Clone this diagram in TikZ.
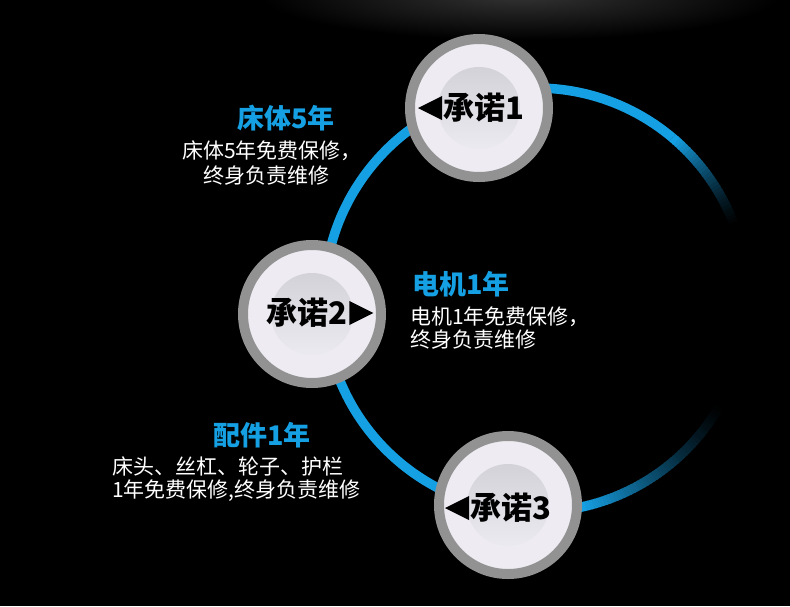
\documentclass[tikz,border=0pt]{standalone}
\usepackage{fontspec}
\newfontfamily\cjk{Noto Sans CJK SC}
\definecolor{ringblue}{RGB}{22,160,228}
\definecolor{rimgray}{RGB}{146,146,146}
\definecolor{discwhite}{RGB}{238,235,242}
\definecolor{coretop}{RGB}{212,210,217}
\definecolor{corebot}{RGB}{236,234,241}
\begin{document}
\begin{tikzpicture}[x=1pt, y=-1pt,
    ring/.style={line width=9.5pt},
    pledge/.style={circle, minimum size=138pt, inner sep=0pt, fill=discwhite, draw=rimgray, line width=10pt},
    core/.style={circle, minimum size=82pt, inner sep=0pt, top color=coretop, bottom color=corebot},
    vow/.style={anchor=west, inner sep=0pt, font=\cjk\bfseries\fontsize{31}{31}\selectfont},
    head/.style={anchor=west, inner sep=0pt, text=ringblue, font=\cjk\bfseries\fontsize{27}{27}\selectfont},
    body/.style={anchor=west, inner sep=0pt, text=white, font=\cjk\fontsize{21}{21}\selectfont}]
    % Background
    \useasboundingbox (0,0) rectangle (790,606);
    \fill[black] (0,0) rectangle (790,606);
    \shade[inner color=black!80!white, outer color=black] (520,-5) ellipse [x radius=260, y radius=45];
    % Ring, fading out on the right
    \coordinate (o) at (536,300);
    \draw[ring, ringblue] (o) ++(-50:212) arc[start angle=-50, end angle=-282, radius=212];
    \foreach \t in {21,...,50} {
      \pgfmathtruncatemacro\p{100*((\t-21)/29)^1.4}
      \draw[ring, ringblue!\p!black] (o) ++(-\t:212) arc[start angle=-\t, end angle=-\t+1.5, radius=212];
    }
    \foreach \t in {30,...,78} {
      \pgfmathtruncatemacro\p{100*((\t-30)/48)^1.3}
      \draw[ring, ringblue!\p!black] (o) ++(\t:212) arc[start angle=\t, end angle=\t-1.5, radius=212];
    }
    % Pledge discs
    \node[pledge] (c1) at (479,108) {};
    \node[pledge] (c2) at (312,314) {};
    \node[pledge] (c3) at (508,505) {};
    \node[core] at (c1) {};
    \node[core] at (c2) {};
    \node[core] at (c3) {};
    \node[vow] (t1) at (443,108) {承诺1};
    \fill (t1.west) ++(-1,-12) -- ++(-24,12) -- ++(24,12) -- cycle;
    \node[vow] (t2) at (266,313) {承诺2};
    \fill (t2.east) ++(2,-12) -- ++(24,12) -- ++(-24,12) -- cycle;
    \node[vow] (t3) at (470,508) {承诺3};
    \fill (t3.west) ++(-1,-12) -- ++(-24,12) -- ++(24,12) -- cycle;
    % Labels
    \node[head] (h1) at (237,118) {床体5年};
    \node[body] (b1a) at (182,151) {床体5年免费保修，};
    \node[body] (b1b) at (203,176) {终身负责维修};
    \node[head] (h2) at (412,284) {电机1年};
    \node[body] (b2a) at (410,317) {电机1年免费保修，};
    \node[body] (b2b) at (410,340) {终身负责维修};
    \node[head] (h3) at (213,435) {配件1年};
    \node[body] (b3a) at (112,466) {床头、丝杠、轮子、护栏};
    \node[body] (b3b) at (112,491) {1年免费保修,终身负责维修};
\end{tikzpicture}
\end{document}
